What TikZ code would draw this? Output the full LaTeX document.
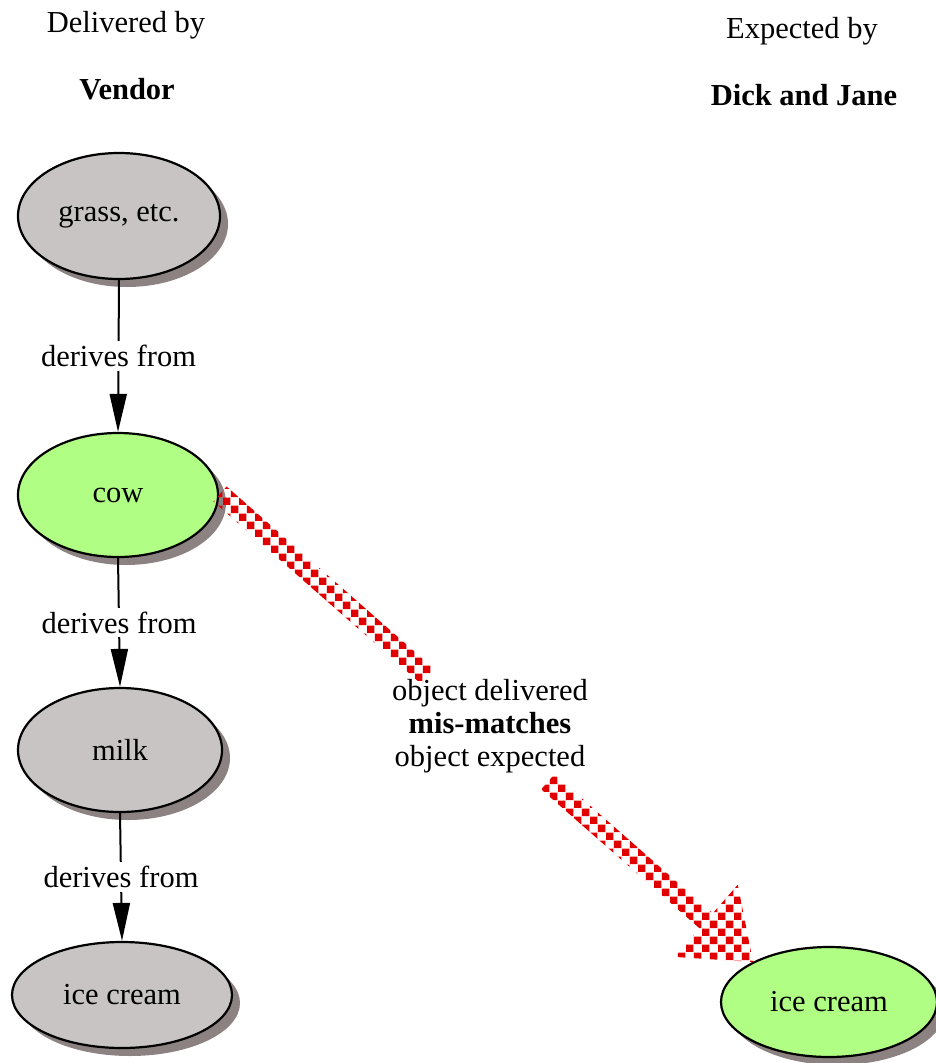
\documentclass[tikz,border=0pt]{standalone}
\usepackage{fontspec}
\setmainfont{Liberation Serif}
\usetikzlibrary{shapes.geometric,arrows.meta,calc,patterns.meta,shadows}
\definecolor{nodegrey}{HTML}{C8C4C4}
\definecolor{nodegreen}{HTML}{B0FF84}
\definecolor{shadowc}{HTML}{8C8282}
\definecolor{redc}{HTML}{E00000}
\tikzdeclarepattern{name=redcheck, type=uncolored,
  bounding box={(0pt,0pt) and (16pt,16pt)}, tile size={(16pt,16pt)},
  code={\fill (0pt,0pt) rectangle (7.5pt,7.5pt); \fill (8pt,8pt) rectangle (15.5pt,15.5pt);}}
\begin{document}
\begin{tikzpicture}[x=1bp,y=-1bp,
  font=\fontsize{30.5bp}{33bp}\selectfont,
  obj/.style={ellipse, draw=black, line width=2.2bp, inner sep=0pt,
    drop shadow={shadow xshift=8bp, shadow yshift=-8bp, fill=shadowc, opacity=1}},
  vgrey/.style={obj, fill=nodegrey},
  vgreen/.style={obj, fill=nodegreen},
  derive/.style={line width=2bp, -{Triangle[length=38bp,width=17bp]}},
  lbl/.style={fill=white, inner sep=4bp},
  redarrow/.style={pattern={redcheck}, pattern color=redc}
]
\useasboundingbox (0,0) rectangle (936,1063);

\node (del) at (126,25) {Delivered by};
\node (ven) at (127,89) {\textbf{Vendor}};
\node (exp) at (802,31) {Expected by};
\node (dj) at (804,95) {\textbf{Dick and Jane}};

\node[vgrey, minimum width=202bp, minimum height=126bp] (grass) at (119,216) {grass, etc.};
\node[vgreen, minimum width=200bp, minimum height=124bp] (cow) at (118,495) {cow};
\node[vgrey, minimum width=204bp, minimum height=124bp] (milk) at (120,750) {milk};
\node[vgrey, minimum width=220bp, minimum height=106bp] (ice1) at (122,995) {ice cream};
\node[vgreen, minimum width=216bp, minimum height=110bp] (ice2) at (829,1002) {ice cream};

\draw[derive] (grass.south) -- node[lbl] (l1) {derives from} (cow.north);
\draw[derive] (cow.south) -- node[lbl] (l2) {derives from} (milk.north);
\draw[derive] (milk.south) -- node[lbl] (l3) {derives from} (ice1.north);

\node[align=center, inner sep=0pt] (mm) at (490,726)
  {object delivered\\\textbf{mis-matches}\\object expected};

\coordinate (rs) at (220,494);
\coordinate (rt) at (753,962);
\coordinate (c1) at ($(rs)!0.39!(rt)$);
\coordinate (c2) at ($(rs)!0.615!(rt)$);
\coordinate (hb) at ($(rs)!0.912!(rt)$);
\fill[redarrow] ($(rs)!10bp!90:(rt)$) -- ($(c1)!10bp!90:(rt)$)
  -- ($(c1)!10bp!-90:(rt)$) -- ($(rs)!10bp!-90:(rt)$) -- cycle;
\fill[redarrow] ($(c2)!10bp!90:(rt)$) -- ($(hb)!10bp!90:(rt)$)
  -- ($(hb)!48bp!90:(rt)$) -- (rt) -- ($(hb)!48bp!-90:(rt)$)
  -- ($(hb)!10bp!-90:(rt)$) -- ($(c2)!10bp!-90:(rt)$) -- cycle;
\end{tikzpicture}
\end{document}
